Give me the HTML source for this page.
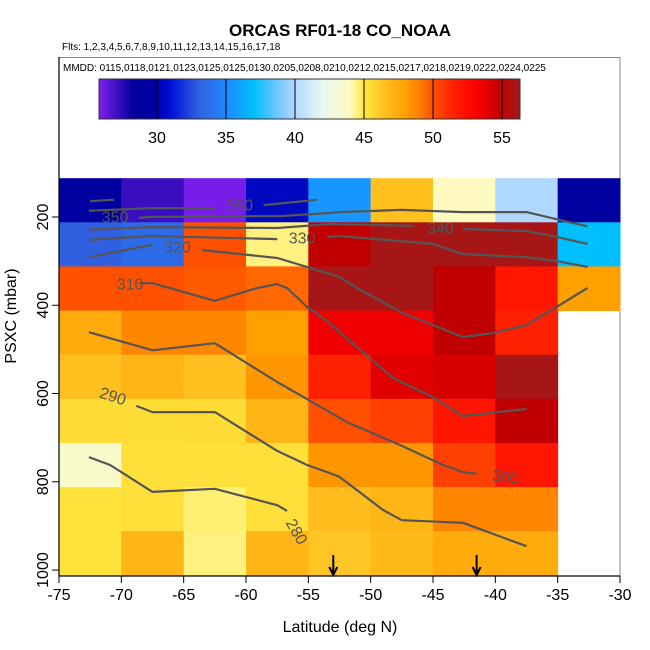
<!DOCTYPE html>
<html><head><meta charset="utf-8"><style>
body{margin:0;background:#fff;}
svg{display:block;font-family:"Liberation Sans",Arial,sans-serif;}
</style></head><body>
<svg id="chart" width="650" height="650" viewBox="0 0 650 650">
<text x="340" y="36" text-anchor="middle" font-size="17" font-weight="bold">ORCAS RF01-18 CO_NOAA</text>
<text x="62" y="50" font-size="10">Flts: 1,2,3,4,5,6,7,8,9,10,11,12,13,14,15,16,17,18</text>
<rect x="59" y="57.5" width="561" height="518.5" fill="none" stroke="#888" stroke-width="1"/>
<text x="63" y="71" font-size="10">MMDD: 0115,0118,0121,0123,0125,0125,0130,0205,0208,0210,0212,0215,0217,0218,0219,0222,0224,0225</text>
<g id="cbar"></g>
<g id="cells"></g>
<g id="contours"></g>
<g id="axes"></g>
<text x="340" y="632" text-anchor="middle" font-size="16">Latitude (deg N)</text>
<text transform="translate(16,316) rotate(-90)" text-anchor="middle" font-size="16">PSXC (mbar)</text>
</svg>
<script>
const latCenters=[-72.5,-67.5,-62.5,-57.5,-52.5,-47.5,-42.5,-37.5,-32.5];
const presCenters=[162,262,362,462,562,662,762,862,962];
const coValues=[
[29,27.2,26,30.5,35.5,46.5,44,40,29],
[33,33.5,50,44.5,55,56,56,56,37],
[50,50,49.8,49.5,56,56,55,52,48],
[47.5,48.8,48.8,48,53.5,53.5,55,51.5,null],
[46.5,47,46.5,48.3,51.5,54,54.3,56,null],
[45.5,45.4,45.5,47,50,50.5,52,55,null],
[43.5,45.3,45.3,45.3,48.3,48.3,50.5,52,null],
[45.2,45.3,44.6,45.3,46.7,47,48.8,48.8,null],
[45.2,47,44.5,47,46.3,46.8,47.5,47.5,null]];
const xTicks=[-75,-70,-65,-60,-55,-50,-45,-40,-35,-30];
const yTicks=[200,400,600,800,1000];
const cbTicks=[30,35,40,45,50,55];
const cmapVals=[25.8,28.3,30,31,33,35,37,39,40,42,44,45,46.5,48,49,50,51.5,53,54,55,56.3];
const cmapCols=["#8020f0","#00009a","#0000a8","#0010d8","#3060e0","#2088ff","#00bfff","#80c8ff","#b0d8ff","#e8f8f0","#fffac0","#ffe840","#ffc020","#ffa000","#ff8000","#ff5000","#ff2000","#ff0000","#e00000","#c00000","#a01c1c"];
const arrowLats=[-53.0,-41.5];
const contourLevels=[360,360,360,350,340,330,320,310,300,290,280];
const contourLats=[
[-72.5,-70.6],
[-72.6,-67.7,-62.5],
[-58.6,-54.3],
[-68.6,-67.7,-57.3,-53.3,-52.5,-47.5,-42.6,-37.5,-35.1,-32.6],
[-72.6,-67.7,-57.5,-53.3,-46.6,null,-42.6,-37.5,-35.1,-32.6],
[-72.6,-67.7,-57.5,null,-53.5,-52.5,-45,-42.6,-37.5,-35.1,-32.6],
[-72.6,-67.5,null,-63.5,-57.5,-55.1,-52.5,-51.1,-47.4,-42.6,-40.2,-37.5,-35.1,-32.6],
[-68.6,-67.5,-62.5,-59.1,-57.5,-56.7,-55.1,-53.3,-52.5,-48.2,-45,-42.6,-37.5],
[-72.6,-67.5,-62.5,-57.5,-55.7,-53.3,-51.9,-47.6,-44.2,-42.6,-41.5],
[-68.8,-67.5,-62.5,-57.5,-55.1,-53.3,-52.5,-49,-47.5,-42.6,-37.5],
[-72.6,-70.9,-67.5,-62.5,-57.5,-56.7]];
const contourPres=[
[164,161],
[186,180,180],
[173,161],
[202,200,198,191,189,184,189,189,205,221],
[229,223,225,216,220,null,227,232,245,261],
[252,243,250,null,245,243,261,284,291,300,313],
[291,263,null,275,293,313,336,361,418,472,463,445,404,361],
[350,350,390,361,352,361,404,440,461,565,608,651,635],
[461,502,486,574,603,642,665,717,762,778,782],
[628,642,642,730,762,780,789,864,887,893,946],
[744,762,823,816,853,866]];
const labelTexts=["360","350","340","330","320","310","300","290","280"];
const labelLats=[-60.5,-70.5,-44.4,-55.5,-65.5,-69.3,-39.2,-70.7,-56];
const labelPres=[175,202,227,250,270,354,791,608,914];
const labelRot=[0,0,0,0,0,0,8,18,60];

const NS="http://www.w3.org/2000/svg";
const X0=59,X1=620,LAT0=-75,LAT1=-30;
function xS(lat){return X0+(lat-LAT0)*(X1-X0)/(LAT1-LAT0);}
function yS(p){return 217+(p-200)*0.4413;}
const CB0=99,CB1=520,CBV0=25.8,CBV1=56.3;
function cS(v){return CB0+(v-CBV0)*(CB1-CB0)/(CBV1-CBV0);}
function hex(c){return [1,3,5].map(i=>parseInt(c.substr(i,2),16));}
function cmap(v){
 if(v<=cmapVals[0])return cmapCols[0];
 for(let i=1;i<cmapVals.length;i++){if(v<=cmapVals[i]){const t=(v-cmapVals[i-1])/(cmapVals[i]-cmapVals[i-1]);const a=hex(cmapCols[i-1]),b=hex(cmapCols[i]);return "rgb("+a.map((x,k)=>Math.round(x+(b[k]-x)*t)).join(",")+")";}}
 return cmapCols[cmapCols.length-1];}
function mk(tag,attrs,parent){const e=document.createElementNS(NS,tag);for(const k in attrs)e.setAttribute(k,attrs[k]);parent.appendChild(e);return e;}

// colorbar
const cb=document.getElementById('cbar');
const defs=mk('defs',{},cb);
const lg=mk('linearGradient',{id:'cg',x1:'0',x2:'1',y1:'0',y2:'0'},defs);
cmapVals.forEach((v,i)=>{mk('stop',{offset:((v-CBV0)/(CBV1-CBV0)).toFixed(4),'stop-color':cmapCols[i]},lg);});
const cbr=mk('rect',{x:CB0,y:79,width:CB1-CB0,height:40,fill:'url(#cg)',stroke:'#333','stroke-width':1},cb);


cbTicks.forEach(v=>{
 const l=mk('line',{x1:cS(v),x2:cS(v),y1:79,y2:119,stroke:'#000','stroke-width':1},cb);
 
 
 const t=mk('text',{x:cS(v),y:143,'text-anchor':'middle','font-size':16},cb);t.textContent=v;
 
 
});

// cells
const cg=document.getElementById('cells');
coValues.forEach((row,r)=>row.forEach((v,c)=>{
 if(v===null)return;
 const x0=xS(latCenters[c]-2.5),x1=xS(latCenters[c]+2.5),y0=yS(presCenters[r]-50),y1=yS(presCenters[r]+50);
 const e=mk('rect',{x:x0,y:y0,width:x1-x0+0.5,height:y1-y0+0.5,fill:cmap(v)},cg);
 
 
}));

// contours
const kg=document.getElementById('contours');
contourLats.forEach((lats,i)=>{
 let segs=[[]];
 lats.forEach((la,j)=>{if(la===null){segs.push([]);}else segs[segs.length-1].push(xS(la).toFixed(1)+','+yS(contourPres[i][j]).toFixed(1));});
 segs.forEach(s=>{if(s.length<2)return;
  const pl=mk('polyline',{points:s.join(' '),fill:'none',stroke:'#555','stroke-width':2.2,'stroke-linejoin':'round'},kg);
  
  
 });
});
labelTexts.forEach((s,i)=>{
 const x=xS(labelLats[i]),y=yS(labelPres[i]);
 const t=mk('text',{x:x,y:y,'text-anchor':'middle','dominant-baseline':'central','font-size':16,fill:'#555',transform:'rotate('+labelRot[i]+' '+x+' '+y+')'},kg);
 t.textContent=s;
 
 
});
arrowLats.forEach(la=>{
 const x=xS(la);
 const a=mk('path',{d:'M'+x+' 555 L'+x+' 575 M'+(x-4)+' 567 L'+x+' 575 L'+(x+4)+' 567',stroke:'#000','stroke-width':2,fill:'none'},kg);
 
 
});

// axes
const ax=document.getElementById('axes');
const bl=mk('line',{x1:X0,x2:X1,y1:576,y2:576,stroke:'#000','stroke-width':1.2},ax);


const ll=mk('line',{x1:X0,x2:X0,y1:57,y2:576,stroke:'#000','stroke-width':1.2},ax);


xTicks.forEach(v=>{
 const x=xS(v);
 const l=mk('line',{x1:x,x2:x,y1:576,y2:583,stroke:'#000'},ax);
 
 
 const t=mk('text',{x:x,y:600,'text-anchor':'middle','font-size':16},ax);t.textContent=v;
 
 
});
yTicks.forEach(v=>{
 const y=yS(v);
 const l=mk('line',{x1:X0-7,x2:X0,y1:y,y2:y,stroke:'#000'},ax);
 
 
 const t=mk('text',{x:0,y:0,'text-anchor':'middle','font-size':16,transform:'translate(48,'+y+') rotate(-90)'},ax);t.textContent=v;
 
 
});
</script>
</body></html>
